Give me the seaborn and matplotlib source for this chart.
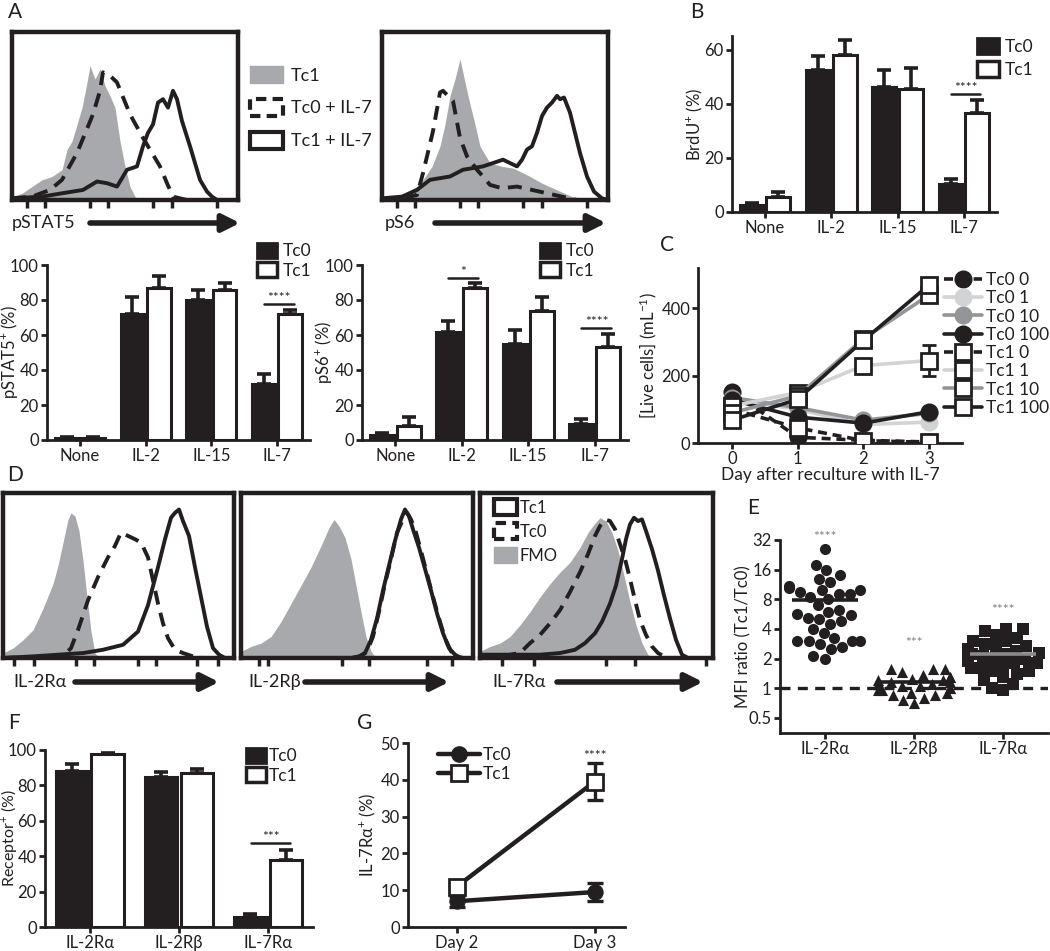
# multi-panel figure: flow histograms, bar charts, time courses and MFI ratios

import numpy as np
import pandas as pd
import seaborn as sns
import matplotlib.pyplot as plt
from matplotlib.patches import Patch
from matplotlib.lines import Line2D

# ---------------- data ----------------
cytokines = ['None', 'IL-2', 'IL-15', 'IL-7']
groups = ['Tc0', 'Tc1']

pstat5_tc0 = [1, 72, 80, 32]
pstat5_tc1 = [1, 87, 86, 72]
pstat5_tc0_err = [0.5, 10, 6, 6]
pstat5_tc1_err = [0.5, 7, 3.5, 2.5]

ps6_tc0 = [3, 62, 55, 9]
ps6_tc1 = [8, 87, 74, 53]
ps6_tc0_err = [1, 6, 8, 3]
ps6_tc1_err = [5, 2.5, 8, 7.5]

brdu_tc0 = [2.5, 52.5, 46, 10.5]
brdu_tc1 = [5.5, 58, 45.5, 36.5]
brdu_tc0_err = [0.8, 5, 6.5, 1.8]
brdu_tc1_err = [2, 5.5, 7.5, 5]

days = [0, 1, 2, 3]
live_labels = ['Tc0 0', 'Tc0 1', 'Tc0 10', 'Tc0 100', 'Tc1 0', 'Tc1 1', 'Tc1 10', 'Tc1 100']
live_values = [[152, 17, 8, 3], [130, 100, 55, 62], [135, 105, 68, 88], [128, 77, 59, 93],
               [100, 45, 7, 2], [110, 150, 230, 245], [90, 140, 310, 440], [68, 130, 305, 470]]
live_err_day3 = [0, 0, 0, 0, 0, 45, 0, 0]

receptors = ['IL-2Rα', 'IL-2Rβ', 'IL-7Rα']
mfi_il2ra = [26, 18, 16, 14, 13, 12, 11, 10.5, 10, 10, 9.5, 9, 9, 8.5, 8, 7, 6.2, 6, 5.6,
             5.5, 5.2, 5, 4.8, 4.5, 4, 3.6, 3.2, 3, 3, 3, 3, 2.8, 2.6, 2.5, 2.1, 2.0]
mfi_il2rb = [1.55, 1.55, 1.55, 1.45, 1.35, 1.3, 1.3, 1.25, 1.2, 1.2, 1.15, 1.15, 1.1, 1.1,
             1.1, 1.05, 1.05, 1.0, 1.0, 0.95, 0.95, 0.9, 0.9, 0.85, 0.85, 0.8, 0.75, 0.7]
mfi_il7ra = [4.0, 4.0, 3.8, 3.5, 3.2, 3.0, 3.0, 2.8, 2.7, 2.6, 2.5, 2.4, 2.3, 2.2, 2.2, 2.1,
             2.0, 2.0, 1.9, 1.8, 1.8, 1.7, 1.6, 1.6, 1.5, 1.5, 1.4, 1.3, 1.2, 1.1, 1.0, 0.95]
mfi_means = [7.8, 1.15, 2.2]

receptor_tc0 = [88, 85, 5.5]
receptor_tc1 = [98, 87, 38]
receptor_tc0_err = [4, 2.5, 2]
receptor_tc1_err = [0.5, 2, 5.5]

g_days = ['Day 2', 'Day 3']
il7ra_tc0 = [7, 9.5]
il7ra_tc1 = [11, 39.5]
il7ra_tc0_err = [1.5, 2.5]
il7ra_tc1_err = [1, 5]

# histograms: channel position (px across box) and % of max
a1_gray_x = [0, 10, 20, 30, 40, 50, 55, 60, 65, 70, 75, 78, 83, 88, 93, 98, 103, 108, 113, 118, 123, 128, 226]
a1_gray_y = [2, 4, 8, 12, 14, 18, 30, 35, 45, 55, 70, 80, 72, 78, 68, 62, 55, 35, 20, 8, 2, 0, 0]
a1_dash_x = [0, 20, 38, 50, 65, 81, 88, 91, 98, 105, 118, 131, 148, 155, 161, 175, 226]
a1_dash_y = [1, 2, 6, 12, 28, 51, 65, 76, 74, 70, 51, 37, 20, 10, 2, 0, 0]
a1_solid_x = [0, 30, 50, 71, 85, 95, 105, 115, 125, 131, 136, 141, 146, 151, 156, 161, 165, 170, 178, 188, 195, 200, 205, 226]
a1_solid_y = [1, 2, 4, 6, 11, 10, 8, 18, 20, 32, 40, 45, 58, 60, 55, 65, 60, 47, 32, 12, 5, 2, 0, 0]

a2_gray_x = [0, 20, 35, 41, 50, 58, 63, 68, 73, 78, 83, 88, 93, 98, 108, 120, 131, 145, 160, 175, 190, 205, 226]
a2_gray_y = [1, 3, 8, 12, 20, 32, 45, 62, 72, 84, 70, 57, 45, 32, 22, 20, 19, 15, 10, 6, 2, 0, 0]
a2_dash_x = [0, 20, 35, 41, 51, 58, 61, 66, 71, 78, 85, 95, 101, 108, 120, 135, 150, 165, 180, 195, 226]
a2_dash_y = [0, 1, 3, 16, 41, 64, 65, 62, 59, 37, 26, 18, 14, 9, 7, 8, 6, 4, 2, 0, 0]
a2_solid_x = [0, 20, 35, 48, 68, 81, 101, 121, 135, 140, 145, 150, 155, 160, 165, 170, 175, 178, 182, 188, 193, 198, 205, 212, 220, 226]
a2_solid_y = [1, 2, 6, 12, 14, 18, 20, 24, 20, 24, 30, 32, 40, 50, 55, 58, 62, 60, 61, 52, 40, 28, 14, 5, 1, 0]

d1_gray_x = [0, 10, 20, 30, 40, 50, 55, 60, 65, 68, 72, 76, 80, 84, 88, 92, 96, 231]
d1_gray_y = [3, 6, 11, 17, 30, 45, 56, 70, 84, 88, 86, 77, 59, 37, 16, 3, 0, 0]
d1_dash_x = [0, 60, 68, 75, 85, 95, 105, 112, 118, 125, 132, 138, 145, 150, 155, 160, 165, 172, 180, 190, 200, 231]
d1_dash_y = [0, 1, 6, 17, 35, 49, 61, 68, 76, 74, 72, 70, 61, 47, 33, 21, 12, 5, 3, 1, 0, 0]
d1_solid_x = [0, 30, 80, 100, 120, 135, 145, 155, 162, 168, 172, 176, 180, 186, 192, 198, 204, 210, 216, 222, 231]
d1_solid_y = [0, 1, 3, 5, 8, 16, 32, 55, 72, 85, 88, 90, 83, 74, 55, 37, 19, 6, 2, 0, 0]

d2_gray_x = [0, 10, 20, 30, 40, 50, 60, 70, 80, 88, 93, 98, 104, 110, 115, 120, 125, 130, 135, 232]
d2_gray_y = [4, 7, 9, 13, 22, 33, 44, 55, 68, 79, 84, 80, 73, 60, 44, 28, 13, 4, 0, 0]
d2_dash_x = [0, 112, 120, 126, 132, 138, 144, 150, 156, 162, 166, 170, 175, 180, 186, 192, 198, 204, 210, 216, 222, 232]
d2_dash_y = [0, 0, 1, 4, 13, 28, 45, 60, 76, 84, 88, 84, 76, 65, 51, 37, 24, 12, 4, 1, 0, 0]
d2_solid_x = [0, 110, 118, 124, 130, 136, 142, 148, 154, 160, 164, 168, 172, 178, 184, 190, 196, 202, 208, 214, 220, 232]
d2_solid_y = [0, 0, 1, 3, 11, 24, 41, 56, 71, 84, 90, 86, 78, 67, 54, 41, 27, 15, 6, 2, 0, 0]

d3_gray_x = [0, 10, 20, 30, 40, 50, 60, 70, 80, 90, 100, 108, 114, 120, 126, 132, 138, 144, 150, 156, 162, 168, 172, 233]
d3_gray_y = [4, 7, 9, 13, 20, 28, 37, 45, 52, 58, 67, 76, 81, 85, 83, 76, 65, 50, 34, 20, 9, 2, 0, 0]
d3_dash_x = [0, 20, 40, 50, 60, 70, 80, 90, 100, 108, 115, 120, 125, 130, 135, 140, 145, 150, 155, 160, 166, 172, 178, 184, 190, 233]
d3_dash_y = [0, 1, 3, 9, 14, 21, 29, 40, 52, 63, 74, 80, 84, 83, 78, 69, 60, 48, 35, 23, 14, 7, 3, 1, 0, 0]
d3_solid_x = [0, 30, 60, 80, 95, 105, 115, 122, 130, 136, 142, 146, 150, 154, 158, 162, 166, 172, 178, 184, 190, 196, 202, 208, 233]
d3_solid_y = [2, 2, 2, 3, 5, 9, 15, 22, 33, 44, 60, 72, 81, 85, 83, 84, 77, 66, 53, 38, 24, 11, 2, 0, 0]

a_ticks = [15, 33, 78, 96, 141, 160, 205]
d1_ticks = [11, 31, 73, 91, 135, 153, 194, 215]
d2_ticks = [18, 27, 101, 128, 186, 211]
d3_ticks = [22, 54, 126, 155, 226]

# ---------------- style ----------------
W, H = 1050, 951
INK = '#231f20'
FILL = '#a7a9ac'
FS = 12
sns.set_style('ticks')
plt.rcParams['font.family'] = ['Lato', 'DejaVu Sans']
plt.rcParams['mathtext.fontset'] = 'custom'
plt.rcParams['mathtext.rm'] = 'Lato'
plt.rcParams['mathtext.it'] = 'Lato'
plt.rcParams['text.color'] = INK
plt.rcParams['axes.edgecolor'] = INK
plt.rcParams['axes.labelcolor'] = INK
plt.rcParams['xtick.color'] = INK
plt.rcParams['ytick.color'] = INK
plt.rcParams['axes.linewidth'] = 2
plt.rcParams['xtick.major.width'] = 2
plt.rcParams['ytick.major.width'] = 2
plt.rcParams['xtick.major.size'] = 4.5
plt.rcParams['ytick.major.size'] = 4.5
plt.rcParams['font.size'] = FS

fig = plt.figure(figsize=(W / 100, H / 100), dpi=100)


def axpx(x0, y0, x1, y1):
    ax = fig.add_axes([x0 / W, 1 - y1 / H, (x1 - x0) / W, (y1 - y0) / H])
    ax._px = (x0, x1)
    return ax


def fpt(x, y):
    return (x / W, 1 - y / H)


def ylabel_at(ax, text, x_right, fs=FS):
    # x_right: pixel column of the label's right edge
    x0, x1 = ax._px
    ax.set_ylabel(text, fontsize=fs)
    ax.yaxis.set_label_coords((x_right - x0) / (x1 - x0), 0.5)


def arrow(text, xt, x0, x1, y):
    fig.text(*fpt(xt, y), text, va='center', ha='left', fontsize=13)
    fig.add_artist(plt.Annotation('', xy=fpt(x1, y), xytext=fpt(x0, y), xycoords='figure fraction',
                                  arrowprops=dict(arrowstyle='-|>', lw=4, color=INK,
                                                  mutation_scale=26, shrinkA=0, shrinkB=0)))


def legend_at(ax, handles, labels, x, y, **kw):
    opts = dict(loc='upper left', bbox_to_anchor=fpt(x, y), bbox_transform=fig.transFigure,
                frameon=False, borderaxespad=0, borderpad=0, fontsize=12.5, handletextpad=0.35)
    opts.update(kw)
    return ax.legend(handles, labels, **opts)


def hist_panel(box, gray, dash, solid, ticks, width):
    ax = axpx(*box)
    ax.fill_between(gray[0], gray[1], color=FILL, lw=0)
    ax.plot(dash[0], dash[1], color=INK, lw=2.8, dashes=(3.6, 2.2))
    ax.plot(solid[0], solid[1], color=INK, lw=2.8)
    ax.set_xlim(0, width)
    ax.set_ylim(0, 100)
    ax.set_yticks([])
    ax.set_xticks(ticks)
    ax.set_xticklabels([])
    ax.tick_params(axis='x', direction='out', length=6, width=2.5)
    for s in ax.spines.values():
        s.set_linewidth(3.2)
    return ax


def bar_panel(box, cats, tc0, tc1, e0, e1, ymax, yticks, ylabel, label_x, label_fs=FS):
    ax = axpx(*box)
    df = pd.DataFrame({'cat': cats * 2, 'grp': ['Tc0'] * len(cats) + ['Tc1'] * len(cats),
                       'val': tc0 + tc1})
    sns.barplot(data=df, x='cat', y='val', hue='grp', order=cats, hue_order=groups,
                palette={'Tc0': INK, 'Tc1': 'white'}, edgecolor=INK, linewidth=2.2,
                gap=0.1, errorbar=None, legend=False, saturation=1, ax=ax)
    for cont, err in zip(list(ax.containers), [e0, e1]):
        xs = [p.get_x() + p.get_width() / 2 for p in cont]
        hs = [p.get_height() for p in cont]
        ax.errorbar(xs, hs, yerr=[np.zeros(len(err)), err], fmt='none', ecolor=INK,
                    elinewidth=2.6, capsize=5, capthick=2.6, zorder=0.5)
    ax.set_xlim(-0.5, len(cats) - 0.5)
    ax.set_ylim(0, ymax)
    ax.set_yticks(yticks)
    ax.set_xlabel('')
    ylabel_at(ax, ylabel, label_x, label_fs)
    ax.tick_params(labelsize=FS, pad=1.5)
    sns.despine(ax=ax)
    return ax


def sig(ax, xc, y, text, x0=-0.2, x1=0.25):
    ax.plot([xc + x0, xc + x1], [y, y], color=INK, lw=1.8, clip_on=False)
    ax.text(xc + (x0 + x1) / 2, y, text, ha='center', va='bottom', fontsize=10)


bar_handles = [Patch(facecolor=INK, edgecolor=INK, lw=2),
               Patch(facecolor='white', edgecolor=INK, lw=2.5)]

# ---------------- panel A ----------------
hist_panel((12, 32, 238, 200), (a1_gray_x, a1_gray_y), (a1_dash_x, a1_dash_y),
           (a1_solid_x, a1_solid_y), a_ticks, 226)
ha2 = hist_panel((382, 32, 608, 200), (a2_gray_x, a2_gray_y), (a2_dash_x, a2_dash_y),
                 (a2_solid_x, a2_solid_y), a_ticks, 226)
arrow('pSTAT5', 12, 90, 240, 223)
arrow('pS6', 385, 435, 606, 223)
legend_at(ha2, [Patch(facecolor=FILL, edgecolor=FILL),
                Patch(facecolor='white', edgecolor=INK, lw=3, linestyle=(0, (2.5, 1.5))),
                Patch(facecolor='white', edgecolor=INK, lw=3)],
          ['Tc1', 'Tc0 + IL-7', 'Tc1 + IL-7'], 250, 66, fontsize=13,
          handlelength=1.8, handleheight=1.05, labelspacing=0.85, handletextpad=0.45)

ax_p5 = bar_panel((47, 265, 310, 440), cytokines, pstat5_tc0, pstat5_tc1,
                  pstat5_tc0_err, pstat5_tc1_err, 100, range(0, 101, 20),
                  'pSTAT5$^{+}$ (%)', 20)
sig(ax_p5, 3, 78, '****')
legend_at(ax_p5, bar_handles, groups, 257, 243, handlelength=1.15, handleheight=0.95,
          labelspacing=0.15)

ax_s6 = bar_panel((362, 265, 628, 440), cytokines, ps6_tc0, ps6_tc1,
                  ps6_tc0_err, ps6_tc1_err, 100, range(0, 101, 20), 'pS6$^{+}$ (%)', 334)
sig(ax_s6, 1, 92.5, '*')
sig(ax_s6, 3, 64, '****')
legend_at(ax_s6, bar_handles, groups, 540, 243, handlelength=1.15, handleheight=0.95,
          labelspacing=0.15)

# ---------------- panel B ----------------
ax_b = bar_panel((732, 36, 997, 212), cytokines, brdu_tc0, brdu_tc1,
                 brdu_tc0_err, brdu_tc1_err, 65, [0, 20, 40, 60], 'BrdU$^{+}$ (%)', 705)
sig(ax_b, 3, 43.5, '****')
legend_at(ax_b, bar_handles, groups, 977, 38, handlelength=1.25, handleheight=1.0,
          labelspacing=0.38)

# ---------------- panel C ----------------
ax_c = axpx(698, 268, 962, 443)
dose_colors = [INK, '#d1d3d4', '#939598', INK]
c_handles = []
for i, (lab, vals) in enumerate(zip(live_labels, live_values)):
    col = dose_colors[i % 4]
    ls = (0, (2.5, 1.6)) if i % 4 == 0 else '-'
    if i < 4:
        mk, mfc, mec = 'o', col, col
    else:
        mk, mfc, mec = 's', 'white', INK
    sns.lineplot(x=days, y=vals, ax=ax_c, color=col, lw=2.6, linestyle=ls, marker=mk,
                 markersize=11, markerfacecolor=mfc, markeredgecolor=mec, markeredgewidth=2,
                 zorder=3 + i)
    if live_err_day3[i]:
        ax_c.errorbar([3], [vals[3]], yerr=[live_err_day3[i]], fmt='none', ecolor=INK,
                      elinewidth=2, capsize=5, capthick=2, zorder=2)
    c_handles.append(Line2D([], [], color=col, lw=2.6, linestyle=ls, marker=mk, markersize=11,
                            markerfacecolor=mfc, markeredgecolor=mec, markeredgewidth=2))
ax_c.set_xlim(-0.52, 3.5)
ax_c.set_ylim(0, 520)
ax_c.set_xticks(days)
ax_c.set_yticks([0, 200, 400])
ax_c.set_xlabel('Day after reculture with IL-7', fontsize=12.5, labelpad=0)
ylabel_at(ax_c, '[Live cells] (mL$^{-1}$)', 659)
ax_c.tick_params(labelsize=FS, pad=1)
sns.despine(ax=ax_c)
legend_at(ax_c, c_handles, live_labels, 944, 272, handlelength=2.2, labelspacing=0.13,
          handletextpad=0.2)

# ---------------- panel D ----------------
hist_panel((3, 493, 234, 658), (d1_gray_x, d1_gray_y), (d1_dash_x, d1_dash_y),
           (d1_solid_x, d1_solid_y), d1_ticks, 231)
hist_panel((241, 493, 473, 658), (d2_gray_x, d2_gray_y), (d2_dash_x, d2_dash_y),
           (d2_solid_x, d2_solid_y), d2_ticks, 232)
hd3 = hist_panel((480, 493, 713, 658), (d3_gray_x, d3_gray_y), (d3_dash_x, d3_dash_y),
                 (d3_solid_x, d3_solid_y), d3_ticks, 233)
arrow('IL-2Rα', 13, 75, 219, 682)
arrow('IL-2Rβ', 248, 305, 449, 682)
arrow('IL-7Rα', 492, 557, 703, 682)
legend_at(hd3, [Patch(facecolor='white', edgecolor=INK, lw=3),
                Patch(facecolor='white', edgecolor=INK, lw=3, linestyle=(0, (2.5, 1.5))),
                Patch(facecolor=FILL, edgecolor=FILL)],
          ['Tc1', 'Tc0', 'FMO'], 494, 499, fontsize=12, handlelength=1.4, handleheight=1.1,
          labelspacing=0.45, handletextpad=0.15)

# ---------------- panel E ----------------
ax_e = axpx(780, 540, 1048, 733)
ax_e.set_yscale('log', base=2)
ax_e.set_ylim(0.35, 32)
ax_e.axhline(1, color=INK, lw=2.4, dashes=(3, 2.2), zorder=0)
for rec, vals, mk in zip(receptors, [mfi_il2ra, mfi_il2rb, mfi_il7ra], ['o', '^', 's']):
    sns.swarmplot(x=[rec] * len(vals), y=vals, order=receptors, marker=mk, color=INK,
                  size=8, linewidth=0, ax=ax_e)
for i, m in enumerate(mfi_means):
    ax_e.hlines(m, i - 0.37, i + 0.37, color=INK if i < 2 else '#8a8a8a', lw=2.6, zorder=5)
ax_e.set_xlim(-0.5, 2.5)
ax_e.set_yticks([0.5, 1, 2, 4, 8, 16, 32])
ax_e.set_yticklabels(['0.5', '1', '2', '4', '8', '16', '32'])
ax_e.yaxis.set_minor_locator(plt.NullLocator())
ax_e.set_xticks(range(3))
ax_e.set_xticklabels(receptors)
ylabel_at(ax_e, 'MFI ratio (Tc1/Tc0)', 751)
ax_e.tick_params(labelsize=FS, pad=1.5)
for i, (y, t) in enumerate(zip([34, 2.85, 6.2], ['****', '***', '****'])):
    ax_e.text(i, y, t, ha='center', va='center', fontsize=10, color='#7f7f7f', clip_on=False)
sns.despine(ax=ax_e)

# ---------------- panel F ----------------
ax_f = bar_panel((45, 750, 313, 927), receptors, receptor_tc0, receptor_tc1,
                 receptor_tc0_err, receptor_tc1_err, 100, range(0, 101, 20),
                 'Receptor$^{+}$ (%)', 19, label_fs=11.5)
sig(ax_f, 2, 47.5, '***', -0.19, 0.24)
legend_at(ax_f, bar_handles, groups, 246, 748, handlelength=1.15, handleheight=0.95,
          labelspacing=0.15, handletextpad=0.15)

# ---------------- panel G ----------------
ax_g = axpx(408, 743, 625, 927)
gx = [0, 1]
sns.lineplot(x=gx, y=il7ra_tc0, ax=ax_g, color=INK, lw=3.2, marker='o', markersize=11,
             markerfacecolor=INK, markeredgecolor=INK, zorder=3)
sns.lineplot(x=gx, y=il7ra_tc1, ax=ax_g, color=INK, lw=3.2, marker='s', markersize=12,
             markerfacecolor='white', markeredgecolor=INK, markeredgewidth=2, zorder=4)
ax_g.errorbar(gx, il7ra_tc0, yerr=il7ra_tc0_err, fmt='none', ecolor=INK, elinewidth=2.4,
              capsize=6, capthick=2.4, zorder=2)
ax_g.errorbar(gx, il7ra_tc1, yerr=il7ra_tc1_err, fmt='none', ecolor=INK, elinewidth=2.4,
              capsize=6, capthick=2.4, zorder=2)
ax_g.text(1, 46.5, '****', ha='center', va='center', fontsize=10)
ax_g.set_xlim(-0.355, 1.22)
ax_g.set_ylim(0, 50)
ax_g.set_xticks(gx)
ax_g.set_xticklabels(g_days)
ax_g.set_yticks(range(0, 51, 10))
ylabel_at(ax_g, 'IL-7Rα$^{+}$ (%)', 378)
ax_g.tick_params(labelsize=FS, pad=1.5)
sns.despine(ax=ax_g)
g_handles = [Line2D([], [], color=INK, lw=3.2, marker='o', markersize=11, markerfacecolor=INK),
             Line2D([], [], color=INK, lw=3.2, marker='s', markersize=12,
                    markerfacecolor='white', markeredgecolor=INK, markeredgewidth=2)]
legend_at(ax_g, g_handles, groups, 438, 747, handlelength=2.4, labelspacing=0.15,
          handletextpad=0.2)

# ---------------- panel letters ----------------
for letter, x, y in [('A', 8, 12), ('B', 690, 12), ('C', 660, 245), ('D', 7, 475),
                     ('E', 747, 508), ('F', 8, 723), ('G', 357, 723)]:
    fig.text(*fpt(x, y), letter, fontsize=15, va='center', ha='left')

fig.savefig('out.png', dpi=100)
